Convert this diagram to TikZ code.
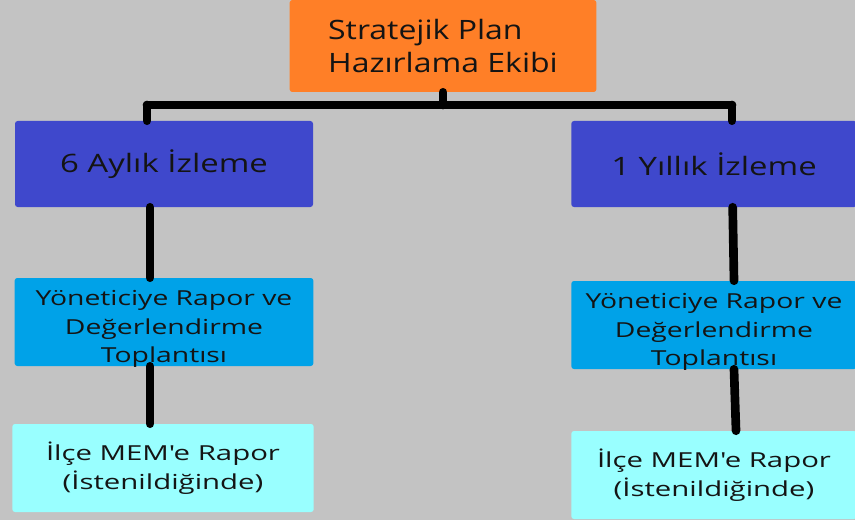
\documentclass[tikz,border=0pt]{standalone}
\usepackage{fontspec}
\setmainfont{Open Sans}
\newfontfamily\ekipfont[FakeStretch=1.2]{Open Sans}
\newfontfamily\izlemefont[FakeStretch=1.3]{Open Sans}
\newfontfamily\toplantifont[FakeStretch=1.37]{Open Sans}
\newfontfamily\raporfont[FakeStretch=1.42]{Open Sans}
\usetikzlibrary{positioning}

\definecolor{zemin}{RGB}{195,195,195}
\definecolor{turuncu}{RGB}{255,127,39}
\definecolor{mavi}{RGB}{63,72,204}
\definecolor{acikmavi}{RGB}{0,162,232}
\definecolor{turkuaz}{RGB}{153,255,255}
\definecolor{yazi}{RGB}{20,20,20}

\begin{document}
\begin{tikzpicture}[x=0.75pt, y=-0.75pt,
        every node/.style={rectangle, rounded corners=2pt, text=yazi, inner sep=0pt},
        ekip/.style={fill=turuncu, minimum width=230pt, minimum height=69pt, font=\ekipfont\fontsize{20}{25}\selectfont, align=left},
        izleme/.style={fill=mavi, minimum height=64.5pt, font=\izlemefont\fontsize{19}{24}\selectfont},
        toplanti/.style={fill=acikmavi, minimum height=66pt, font=\toplantifont\fontsize{15.5}{21.5}\selectfont, align=center, text height=61pt, text depth=0pt},
        rapor/.style={fill=turkuaz, minimum height=66pt, font=\raporfont\fontsize{15.5}{22}\selectfont, align=center},
        baglanti/.style={draw=black, line width=6.5pt, line cap=round}]

        \fill[zemin] (0,0) rectangle (855,520);
        \useasboundingbox (0,0) rectangle (855,520);

        \node[ekip] (plan) at (443,46) {Stratejik Plan\\Hazırlama Ekibi};

        \node[izleme, minimum width=223.5pt] (alti) at (164,164) {6 Aylık İzleme};
        \node[izleme, minimum width=214pt] (yil) at (714,164) {1 Yıllık İzleme};

        \node[toplanti, minimum width=224pt] (topsol) at (164,322) {Yöneticiye Rapor ve\\Değerlendirme\\Toplantısı};
        \node[toplanti, minimum width=214pt] (topsag) at (714,325) {Yöneticiye Rapor ve\\Değerlendirme\\Toplantısı};

        \node[rapor, minimum width=226pt] (rapsol) at (163,468) {İlçe MEM'e Rapor\\(İstenildiğinde)};
        \node[rapor, minimum width=214pt] (rapsag) at (714,475) {İlçe MEM'e Rapor\\(İstenildiğinde)};

        \coordinate (kolsol) at (147,105);
        \coordinate (kolsag) at (732,105);

        \draw[baglanti] (kolsol) -- (kolsag);
        \draw[baglanti] (plan.south) -- (plan.south |- kolsol);
        \draw[baglanti] (kolsol) -- (kolsol |- alti.north);
        \draw[baglanti] (kolsag) -- (kolsag |- yil.north);
        \draw[baglanti] ([xshift=-10.5pt]alti.south) -- ([xshift=-10.5pt]topsol.north);
        \draw[baglanti] ([xshift=14pt]yil.south) -- ([xshift=15pt]topsag.north);
        \draw[baglanti] ([xshift=-10.5pt]topsol.south) -- ([xshift=-9.75pt]rapsol.north);
        \draw[baglanti] ([xshift=15pt]topsag.south) -- ([xshift=16.5pt]rapsag.north);
\end{tikzpicture}
\end{document}
